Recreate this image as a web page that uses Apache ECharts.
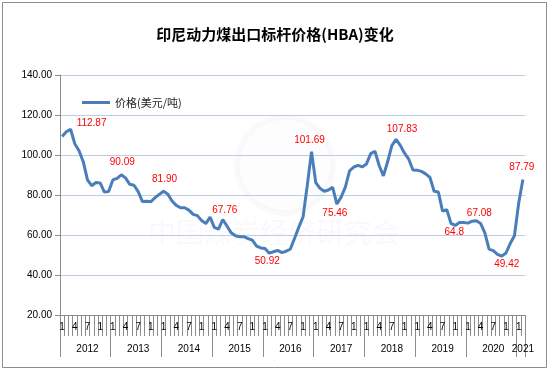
<!DOCTYPE html>
<html>
<head>
<meta charset="utf-8">
<script src="https://cdn.jsdelivr.net/npm/echarts@6/dist/echarts.min.js"></script>
<style>
html,body{margin:0;padding:0;background:#fff;}
#chart{width:550px;height:372px;}
</style>
</head>
<body>
<div id="chart"></div>
<script>
// ---- data ----
const years = ['2012','2013','2014','2015','2016','2017','2018','2019','2020','2021'];
const monthTickText = ['1','','','4','','','7','','','1','',''];
const seriesName = '价格(美元/吨)';
const titleText = '印尼动力煤出口标杆价格(HBA)变化';
const watermarkText = '中国煤炭经济研究会';

const price2012 = [109.29,111.58,112.87,105.61,102.12,96.65,87.56,84.65,86.21,86.04,81.44,81.75];
const price2013 = [87.55,88.35,90.09,88.56,85.33,84.87,81.69,76.70,76.89,76.61,78.69,80.31];
const price2014 = [81.90,80.44,77.01,74.81,73.60,73.64,72.45,70.29,69.69,67.26,65.70,69.00];
const price2015 = [63.84,62.92,67.76,64.48,61.08,59.59,59.16,59.14,58.21,57.39,54.43,53.51];
const price2016 = [53.20,50.92,51.62,52.32,51.20,51.87,53.00,58.37,63.93,69.07,84.89,101.69];
const price2017 = [86.23,83.32,81.90,82.51,83.81,75.46,78.95,83.97,92.03,93.99,94.80,94.04];
const price2018 = [95.54,100.69,101.86,94.75,89.53,96.61,104.65,107.83,104.81,100.89,97.90,92.51];
const price2019 = [92.41,91.80,90.57,88.85,81.86,81.48,71.92,72.67,65.79,64.80,66.27,66.30];
const price2020 = [65.93,66.89,67.08,65.77,61.11,52.98,52.16,50.34,49.42,51.00,55.71,59.65];
const price2021 = [75.84,87.79];

// annotated points: month index in series, label text
const annotIndex = [2,14,24,38,49,59,65,79,93,98,104,109];
const annotText  = ['112.87','90.09','81.90','67.76','50.92','101.69','75.46','107.83','64.8','67.08','49.42','87.79'];

// ---- build ----
const prices = [].concat(price2012,price2013,price2014,price2015,price2016,price2017,price2018,price2019,price2020,price2021);
const categories = [];
years.forEach(function(y){ for(let m=1;m<=12;m++){ categories.push(y+'-'+(m<10?'0'+m:m)); } });
categories.length = prices.length;

// label offsets (style only)
const annotOffsets = [[21,-6],[1,-13],[1,-12],[2,-9],[-2,8],[-2,-11],[-2,9],[6,-10],[-1,7],[3,-8],[5,8],[-1,-12]];

const chart = echarts.init(document.getElementById('chart'), null, {renderer:'canvas'});
const option = {
  backgroundColor:'#ffffff',
  animation:false,
  title:{
    text:titleText, left:'center', top:22,
    textStyle:{fontSize:15,fontWeight:'bold',color:'#000',fontFamily:'"Noto Sans CJK SC", sans-serif'}
  },
  legend:{
    left:77, top:92,
    itemWidth:28, itemHeight:3, itemGap:5,
    data:[{name:seriesName, icon:'rect'}],
    textStyle:{fontSize:11,color:'#222',fontFamily:'"Noto Sans CJK SC", sans-serif'}
  },
  grid:{left:60,right:25,top:75,bottom:57,containLabel:false},
  xAxis:[{
    type:'category', data:categories, position:'bottom', boundaryGap:true,
    axisLine:{show:true,lineStyle:{color:'#8c8c8c',width:1}},
    axisTick:{show:true,interval:0,length:21,lineStyle:{color:'#8c8c8c'}},
    axisLabel:{
      interval:2, margin:7, fontSize:10, color:'#000', fontFamily:'"Liberation Sans", Arial, sans-serif',
      formatter:function(v){ return monthTickText[parseInt(v.slice(5),10)-1]; }
    },
    splitLine:{show:false}
  },{
    type:'category', data:categories, position:'bottom', offset:0, boundaryGap:true,
    axisLine:{show:false},
    axisTick:{show:true,length:42,lineStyle:{color:'#8c8c8c'},
      interval:function(i){ return i % 12 === 0; }},
    axisLabel:{
      margin:29, fontSize:10, color:'#000', fontFamily:'"Liberation Sans", Arial, sans-serif',
      interval:function(i){ return i % 12 === 6 || i === categories.length-1; },
      formatter:function(v){ return v.slice(0,4); }
    },
    splitLine:{show:false}
  }],
  yAxis:{
    type:'value', min:20, max:140, interval:20,
    axisLine:{show:true,lineStyle:{color:'#8c8c8c'}},
    axisTick:{show:true,length:5,lineStyle:{color:'#8c8c8c'}},
    axisLabel:{margin:8,fontSize:10,color:'#000',fontFamily:'"Liberation Sans", Arial, sans-serif',
      formatter:function(v){ return v.toFixed(2); }},
    splitLine:{show:true,lineStyle:{color:'#bfcbe0',width:1}}
  },
  graphic:[
    {type:'rect', z:-10, silent:true, shape:{x:2.5,y:2.5,width:544,height:365}, style:{fill:'none',stroke:'#8c8c8c',lineWidth:1}},
    {type:'circle', z:-5, silent:true, shape:{cx:285,cy:165,r:48}, style:{fill:'rgba(0,0,0,0.008)',stroke:'rgba(0,0,0,0.018)',lineWidth:6}},
    {type:'text', z:-5, silent:true, x:274, y:232, style:{text:watermarkText, fontSize:28, fill:'rgba(0,0,0,0.025)', align:'center', verticalAlign:'middle', fontFamily:'"Noto Sans CJK SC", serif'}}
  ],
  series:[{
    name:seriesName, type:'line', xAxisIndex:0, data:prices,
    showSymbol:false, symbol:'none',
    lineStyle:{color:'#4a7ebb',width:3},
    itemStyle:{color:'#4a7ebb'},
    markPoint:{
      symbol:'circle', symbolSize:1, silent:true,
      itemStyle:{color:'rgba(0,0,0,0)'},
      label:{show:true, position:'inside', color:'#ff0000', fontSize:10, fontFamily:'"Liberation Sans", Arial, sans-serif', align:'center', verticalAlign:'middle'},
      data: annotIndex.map(function(idx,k){
        return {coord:[categories[idx], prices[idx]], value:annotText[k],
          label:{offset:annotOffsets[k], formatter:annotText[k]}};
      })
    }
  }]
};
chart.setOption(option);
</script>
</body>
</html>
